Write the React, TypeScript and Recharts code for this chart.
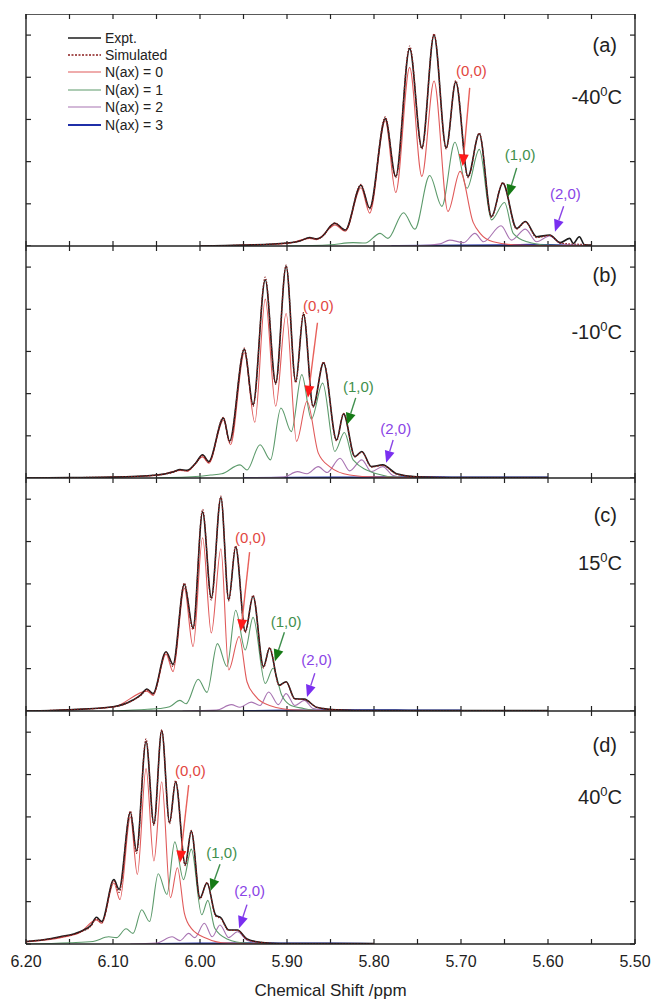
import { Legend, Line, LineChart, ReferenceDot, ReferenceLine, XAxis, YAxis } from "recharts";

type Pt = [number, number];

// x = chemical shift (ppm), y = intensity in tick units
const xTicks = [5.5, 5.55, 5.6, 5.65, 5.7, 5.75, 5.8, 5.85, 5.9, 5.95, 6.0, 6.05, 6.1, 6.15, 6.2];
const yTicks = [0, 1, 2, 3, 4, 5];
const X_MIN = 5.5;
const X_MAX = 6.2;
const Y_MAX = 5.5;

// (a) -40 C
const expA: Pt[] = [
  [6.0, 0], [5.95, 0.02], [5.9, 0.07], [5.885, 0.12], [5.874, 0.2], [5.866, 0.17], [5.857, 0.28],
  [5.851, 0.45], [5.845, 0.54], [5.833, 0.38], [5.815, 1.44], [5.805, 0.9], [5.787, 3.02], [5.775, 1.65],
  [5.759, 4.68], [5.745, 2.33], [5.731, 5.0], [5.717, 2.33], [5.706, 3.89], [5.692, 1.65], [5.679, 2.66],
  [5.665, 0.7], [5.652, 1.49], [5.636, 0.42], [5.626, 0.58], [5.613, 0.22], [5.598, 0.26], [5.586, 0.08],
  [5.575, 0.18], [5.571, 0.06], [5.564, 0.22], [5.558, 0.03], [5.55, 0.02],
];
const simA: Pt[] = [
  [6.0, 0], [5.95, 0.02], [5.9, 0.07], [5.885, 0.12], [5.874, 0.19], [5.866, 0.17], [5.857, 0.27],
  [5.851, 0.44], [5.845, 0.55], [5.833, 0.37], [5.815, 1.46], [5.805, 0.88], [5.787, 3.06], [5.775, 1.62],
  [5.759, 4.74], [5.745, 2.3], [5.731, 5.03], [5.717, 2.3], [5.706, 3.92], [5.692, 1.62], [5.679, 2.68],
  [5.665, 0.68], [5.652, 1.5], [5.636, 0.4], [5.626, 0.57], [5.613, 0.2], [5.598, 0.25], [5.586, 0.07],
  [5.575, 0.05], [5.564, 0.04], [5.55, 0.02],
];
const n0A: Pt[] = [
  [6.0, 0], [5.95, 0.02], [5.9, 0.06], [5.874, 0.18], [5.866, 0.15], [5.851, 0.42], [5.845, 0.5],
  [5.833, 0.35], [5.815, 1.38], [5.805, 0.78], [5.787, 2.97], [5.775, 1.27], [5.759, 4.23], [5.745, 1.65],
  [5.731, 3.91], [5.715, 0.82], [5.701, 1.77], [5.686, 0.56], [5.678, 0.3], [5.663, 0.1], [5.632, 0.02],
  [5.55, 0],
];
const n1A: Pt[] = [
  [5.9, 0], [5.85, 0.03], [5.824, 0.08], [5.81, 0.07], [5.793, 0.3], [5.784, 0.18], [5.766, 0.79],
  [5.753, 0.4], [5.736, 1.67], [5.722, 0.94], [5.707, 2.46], [5.693, 1.37], [5.679, 2.29], [5.665, 0.62],
  [5.65, 1.03], [5.64, 0.3], [5.624, 0.1], [5.601, 0.02], [5.55, 0],
];
const n2A: Pt[] = [
  [5.8, 0], [5.747, 0.01], [5.724, 0.05], [5.713, 0.14], [5.697, 0.08], [5.684, 0.3], [5.674, 0.1],
  [5.654, 0.48], [5.642, 0.14], [5.626, 0.4], [5.613, 0.1], [5.598, 0.24], [5.586, 0.06], [5.571, 0.02],
  [5.55, 0],
];
const n3A: Pt[] = [[5.78, 0], [5.7, 0.01], [5.65, 0.02], [5.62, 0.03], [5.59, 0.02], [5.55, 0]];

// (b) -10 C
const expB: Pt[] = [
  [6.2, 0], [6.15, 0.01], [6.1, 0.02], [6.05, 0.07], [6.03, 0.15], [6.023, 0.2], [6.015, 0.18],
  [6.005, 0.35], [5.997, 0.55], [5.99, 0.39], [5.973, 1.42], [5.966, 0.87], [5.949, 3.05], [5.939, 1.74],
  [5.925, 4.7], [5.913, 2.25], [5.901, 5.02], [5.89, 2.29], [5.881, 3.88], [5.87, 1.7], [5.858, 2.73],
  [5.843, 0.9], [5.835, 1.52], [5.822, 0.51], [5.814, 0.63], [5.803, 0.27], [5.79, 0.31], [5.774, 0.1],
  [5.751, 0.03], [5.7, 0.01], [5.6, 0.01],
];
const simB: Pt[] = [
  [6.2, 0], [6.15, 0.01], [6.1, 0.02], [6.05, 0.07], [6.03, 0.14], [6.023, 0.19], [6.015, 0.17],
  [6.005, 0.34], [5.997, 0.53], [5.99, 0.37], [5.973, 1.44], [5.966, 0.84], [5.949, 3.08], [5.939, 1.7],
  [5.925, 4.76], [5.913, 2.22], [5.901, 5.05], [5.89, 2.26], [5.881, 3.92], [5.87, 1.68], [5.858, 2.75],
  [5.843, 0.88], [5.835, 1.53], [5.822, 0.5], [5.814, 0.61], [5.803, 0.26], [5.79, 0.3], [5.774, 0.09],
  [5.751, 0.03], [5.7, 0.01], [5.6, 0.01],
];
const n0B: Pt[] = [
  [6.2, 0], [6.1, 0.02], [6.05, 0.06], [6.023, 0.18], [6.015, 0.16], [5.997, 0.5], [5.99, 0.35],
  [5.973, 1.37], [5.965, 0.79], [5.949, 2.97], [5.937, 1.32], [5.925, 4.24], [5.913, 1.7], [5.901, 3.9],
  [5.889, 0.87], [5.877, 1.82], [5.864, 0.59], [5.851, 0.27], [5.828, 0.07], [5.797, 0.02], [5.7, 0],
];
const n1B: Pt[] = [
  [6.05, 0], [6.0, 0.04], [5.988, 0.07], [5.975, 0.1], [5.954, 0.31], [5.946, 0.19], [5.931, 0.79],
  [5.919, 0.43], [5.907, 1.66], [5.895, 1.1], [5.883, 2.45], [5.872, 1.4], [5.859, 2.25], [5.845, 0.63],
  [5.834, 1.08], [5.824, 0.43], [5.797, 0.1], [5.774, 0.02], [5.7, 0],
];
const n2B: Pt[] = [
  [5.95, 0], [5.904, 0.02], [5.888, 0.15], [5.877, 0.1], [5.864, 0.27], [5.854, 0.13], [5.839, 0.47],
  [5.828, 0.17], [5.814, 0.43], [5.803, 0.15], [5.79, 0.27], [5.778, 0.06], [5.759, 0], [5.7, 0],
];
const n3B: Pt[] = [[5.95, 0], [5.85, 0.01], [5.8, 0.02], [5.75, 0.02], [5.7, 0.01], [5.6, 0.01]];

// (c) 15 C
const expC: Pt[] = [
  [6.2, 0], [6.15, 0.03], [6.1, 0.1], [6.077, 0.26], [6.068, 0.38], [6.061, 0.52], [6.054, 0.41],
  [6.039, 1.4], [6.031, 1.1], [6.018, 2.99], [6.008, 1.96], [5.997, 4.7], [5.987, 2.67], [5.976, 5.04],
  [5.967, 2.63], [5.959, 3.87], [5.948, 1.88], [5.939, 2.71], [5.927, 1.05], [5.92, 1.48], [5.909, 0.61],
  [5.901, 0.69], [5.891, 0.29], [5.88, 0.28], [5.866, 0.09], [5.843, 0.03], [5.8, 0.01], [5.6, 0.01],
];
const simC: Pt[] = [
  [6.2, 0], [6.15, 0.03], [6.1, 0.1], [6.077, 0.25], [6.068, 0.37], [6.061, 0.5], [6.054, 0.4],
  [6.039, 1.38], [6.031, 1.05], [6.018, 3.02], [6.008, 1.92], [5.997, 4.76], [5.987, 2.62], [5.976, 5.07],
  [5.967, 2.6], [5.959, 3.9], [5.948, 1.85], [5.939, 2.73], [5.927, 1.02], [5.92, 1.5], [5.909, 0.6],
  [5.901, 0.68], [5.891, 0.28], [5.88, 0.27], [5.866, 0.09], [5.843, 0.03], [5.8, 0.01], [5.6, 0.01],
];
const n0C: Pt[] = [
  [6.2, 0], [6.1, 0.09], [6.061, 0.47], [6.054, 0.37], [6.039, 1.34], [6.031, 0.93], [6.018, 2.9],
  [6.008, 1.52], [5.997, 4.09], [5.987, 1.84], [5.976, 3.83], [5.967, 0.97], [5.955, 1.76], [5.946, 0.69],
  [5.937, 0.37], [5.92, 0.13], [5.889, 0.02], [5.8, 0],
];
const n1C: Pt[] = [
  [6.1, 0], [6.06, 0.04], [6.046, 0.06], [6.035, 0.1], [6.023, 0.25], [6.016, 0.17], [6.002, 0.75],
  [5.992, 0.44], [5.98, 1.59], [5.969, 1.05], [5.959, 2.38], [5.948, 1.44], [5.939, 2.21], [5.925, 0.65],
  [5.916, 1.01], [5.906, 0.37], [5.897, 0.15], [5.881, 0.06], [5.862, 0.01], [5.8, 0],
];
const n2C: Pt[] = [
  [6.02, 0], [5.981, 0.02], [5.964, 0.15], [5.954, 0.09], [5.941, 0.21], [5.931, 0.13], [5.921, 0.45],
  [5.91, 0.15], [5.901, 0.41], [5.891, 0.13], [5.88, 0.25], [5.87, 0.06], [5.851, 0.01], [5.8, 0],
];
const n3C: Pt[] = [[5.95, 0], [5.9, 0.01], [5.85, 0.02], [5.8, 0.02], [5.75, 0.01], [5.7, 0.01]];

// (d) 40 C
const expD: Pt[] = [
  [6.2, 0.06], [6.18, 0.1], [6.161, 0.17], [6.138, 0.29], [6.125, 0.45], [6.119, 0.63], [6.113, 0.53],
  [6.099, 1.52], [6.093, 1.29], [6.08, 3.11], [6.073, 2.2], [6.062, 4.78], [6.053, 2.83], [6.044, 5.04],
  [6.035, 2.87], [6.028, 3.83], [6.017, 1.88], [6.01, 2.66], [6.0, 1.09], [5.992, 1.44], [5.982, 0.68],
  [5.976, 0.62], [5.967, 0.33], [5.957, 0.33], [5.946, 0.12], [5.931, 0.04], [5.908, 0.01], [5.8, 0.01],
];
const simD: Pt[] = [
  [6.2, 0.06], [6.18, 0.1], [6.161, 0.16], [6.138, 0.28], [6.125, 0.43], [6.119, 0.6], [6.113, 0.5],
  [6.099, 1.5], [6.093, 1.22], [6.08, 3.14], [6.073, 2.14], [6.062, 4.84], [6.053, 2.8], [6.044, 5.06],
  [6.035, 2.84], [6.028, 3.86], [6.017, 1.85], [6.01, 2.68], [6.0, 1.06], [5.992, 1.45], [5.982, 0.66],
  [5.976, 0.6], [5.967, 0.32], [5.957, 0.32], [5.946, 0.11], [5.931, 0.04], [5.908, 0.01], [5.8, 0.01],
];
const n0D: Pt[] = [
  [6.2, 0.05], [6.16, 0.15], [6.138, 0.27], [6.119, 0.57], [6.113, 0.49], [6.099, 1.44], [6.092, 1.05],
  [6.08, 3.0], [6.072, 1.64], [6.062, 4.14], [6.053, 1.96], [6.044, 3.83], [6.034, 1.09], [6.026, 1.8],
  [6.018, 0.73], [6.01, 0.37], [5.992, 0.13], [5.969, 0.02], [5.9, 0],
];
const n1D: Pt[] = [
  [6.2, 0], [6.15, 0.03], [6.123, 0.06], [6.105, 0.17], [6.096, 0.15], [6.085, 0.36], [6.077, 0.25],
  [6.067, 0.81], [6.058, 0.53], [6.048, 1.66], [6.038, 1.17], [6.029, 2.41], [6.019, 1.52], [6.01, 2.24],
  [5.998, 0.69], [5.991, 1.03], [5.983, 0.37], [5.969, 0.12], [5.946, 0.02], [5.9, 0],
];
const n2D: Pt[] = [
  [6.08, 0], [6.05, 0.02], [6.032, 0.17], [6.023, 0.08], [6.013, 0.25], [6.006, 0.15], [5.995, 0.49],
  [5.986, 0.17], [5.977, 0.45], [5.967, 0.15], [5.957, 0.29], [5.946, 0.09], [5.931, 0.02], [5.9, 0],
];
const n3D: Pt[] = [[6.05, 0], [6.0, 0.01], [5.95, 0.02], [5.9, 0.01], [5.85, 0.01], [5.8, 0]];

// arrow annotations: label centre, arrow start, arrow tip (ppm, intensity)
type Note = { label: string; kind: 0 | 1 | 2; text: Pt; from: Pt; to: Pt };
const notesA: Note[] = [
  { label: "(0,0)", kind: 0, text: [5.688, 4.15], from: [5.69, 3.75], to: [5.698, 1.89] },
  { label: "(1,0)", kind: 1, text: [5.632, 2.17], from: [5.636, 1.85], to: [5.646, 1.17] },
  { label: "(2,0)", kind: 2, text: [5.58, 1.25], from: [5.582, 0.94], to: [5.592, 0.34] },
];
const notesB: Note[] = [
  { label: "(0,0)", kind: 0, text: [5.864, 4.08], from: [5.865, 3.68], to: [5.876, 1.9] },
  { label: "(1,0)", kind: 1, text: [5.818, 2.17], from: [5.821, 1.9], to: [5.831, 1.26] },
  { label: "(2,0)", kind: 2, text: [5.775, 1.18], from: [5.778, 0.9], to: [5.786, 0.36] },
];
const notesC: Note[] = [
  { label: "(0,0)", kind: 0, text: [5.942, 4.1], from: [5.943, 3.75], to: [5.953, 1.88] },
  { label: "(1,0)", kind: 1, text: [5.901, 2.12], from: [5.903, 1.86], to: [5.914, 1.17] },
  { label: "(2,0)", kind: 2, text: [5.866, 1.21], from: [5.868, 0.89], to: [5.877, 0.33] },
];
const notesD: Note[] = [
  { label: "(0,0)", kind: 0, text: [6.011, 4.1], from: [6.013, 3.75], to: [6.023, 1.92] },
  { label: "(1,0)", kind: 1, text: [5.975, 2.16], from: [5.977, 1.88], to: [5.988, 1.25] },
  { label: "(2,0)", kind: 2, text: [5.943, 1.26], from: [5.946, 0.93], to: [5.955, 0.37] },
];

const FONT = "Arial, 'Liberation Sans', Helvetica, sans-serif";
const W = 653;
const THIN = 0.01; // axes of size 0 are not drawn at all
const TICK = 5;

const C = {
  expt: "#1c1c1c",
  sim: "#8a1c1c",
  n0: "#e05a5a",
  n1: "#5c9a6b",
  n2: "#a874b2",
  n3: "#1f2fa8",
};

const NOTE_COLORS = [
  { text: "#e2473f", line: "#e8605a", head: "#ff1a1a" },
  { text: "#3f8f4d", line: "#3f8f4d", head: "#167a16" },
  { text: "#8a44e6", line: "#8a44e6", head: "#7a2ff0" },
];

const legendRows = [
  { name: "Expt.", color: C.expt, dash: "", width: 1.4 },
  { name: "Simulated", color: C.sim, dash: "2 1.5", width: 1.4 },
  { name: "N(ax) = 0", color: C.n0, dash: "", width: 1.2 },
  { name: "N(ax) = 1", color: C.n1, dash: "", width: 1.2 },
  { name: "N(ax) = 2", color: C.n2, dash: "", width: 1.2 },
  { name: "N(ax) = 3", color: C.n3, dash: "", width: 2.2 },
];

interface PanelDef {
  tag: string;
  temp: string;
  top: number;
  height: number;
  tagY: number;
  tempY: number;
  exp: Pt[];
  sim: Pt[];
  n0: Pt[];
  n1: Pt[];
  n2: Pt[];
  n3: Pt[];
  notes: Note[];
}

const panels: PanelDef[] = [
  { tag: "(a)", temp: "-40", top: 14, height: 232, tagY: 31, tempY: 83, exp: expA, sim: simA, n0: n0A, n1: n1A, n2: n2A, n3: n3A, notes: notesA },
  { tag: "(b)", temp: "-10", top: 246, height: 232, tagY: 29, tempY: 86, exp: expB, sim: simB, n0: n0B, n1: n1B, n2: n2B, n3: n3B, notes: notesB },
  { tag: "(c)", temp: "15", top: 478, height: 233, tagY: 37, tempY: 85, exp: expC, sim: simC, n0: n0C, n1: n1C, n2: n2C, n3: n3C, notes: notesC },
  { tag: "(d)", temp: "40", top: 711, height: 233, tagY: 34, tempY: 86, exp: expD, sim: simD, n0: n0D, n1: n1D, n2: n2D, n3: n3D, notes: notesD },
];

const rows = (pts: Pt[]) => pts.map(([x, y]) => ({ x, y }));

function arrowShape(lineColor: string, headColor: string) {
  return (props: any) => {
    const { x1, y1, x2, y2 } = props;
    const dx = x2 - x1;
    const dy = y2 - y1;
    const len = Math.hypot(dx, dy) || 1;
    const ux = dx / len;
    const uy = dy / len;
    const hl = 12;
    const hw = 5;
    const bx = x2 - ux * hl;
    const by = y2 - uy * hl;
    const pts = `${x2},${y2} ${bx - uy * hw},${by + ux * hw} ${bx + uy * hw},${by - ux * hw}`;
    return (
      <g>
        <line x1={x1} y1={y1} x2={bx} y2={by} stroke={lineColor} strokeWidth={1.4} />
        <polygon points={pts} fill={headColor} />
      </g>
    );
  };
}

// inward tick marks at both ends of a segment spanning the plot
const vTicks = (props: any) => {
  const { x1, y1, x2, y2 } = props;
  const top = Math.min(y1, y2);
  const bottom = Math.max(y1, y2);
  return (
    <g stroke="#222" strokeWidth={1.2}>
      <line x1={x1} y1={top} x2={x1} y2={top + TICK} />
      <line x1={x2} y1={bottom} x2={x2} y2={bottom - TICK} />
    </g>
  );
};
const hTicks = (props: any) => {
  const { x1, y1, x2, y2 } = props;
  const left = Math.min(x1, x2);
  const right = Math.max(x1, x2);
  return (
    <g stroke="#222" strokeWidth={1.2}>
      <line x1={left} y1={y1} x2={left + TICK} y2={y1} />
      <line x1={right} y1={y2} x2={right - TICK} y2={y2} />
    </g>
  );
};

function LegendBox() {
  return (
    <div style={{ fontFamily: FONT, fontSize: 14, color: "#222" }}>
      {legendRows.map((r) => (
        <div key={r.name} style={{ display: "flex", alignItems: "center", height: 17.4 }}>
          <svg width={33} height={6} style={{ marginRight: 4 }}>
            <line x1={0} y1={3} x2={33} y2={3} stroke={r.color} strokeWidth={r.width} strokeDasharray={r.dash || undefined} />
          </svg>
          <span>{r.name}</span>
        </div>
      ))}
    </div>
  );
}

const tickLabel = (v: number) => (Math.round(v * 100) % 10 === 0 ? v.toFixed(2) : "");

function Panel({ p, last, first }: { p: PanelDef; last: boolean; first: boolean }) {
  const labelH = last ? 57 : 0;
  const chartH = p.height + labelH;
  const frame = { stroke: "#222", strokeWidth: 1.4 };
  const xCommon = {
    type: "number" as const,
    dataKey: "x",
    domain: [X_MIN, X_MAX],
    reversed: true,
    allowDataOverflow: true,
    ticks: xTicks,
    interval: 0,
  };
  const yCommon = {
    type: "number" as const,
    domain: [0, Y_MAX],
    allowDataOverflow: true,
    ticks: yTicks,
    interval: 0,
  };
  return (
    <div style={{ position: "absolute", left: 0, top: p.top, width: W, height: chartH }}>
      <LineChart width={W} height={chartH} margin={{ top: 0, right: 18, bottom: 0, left: 26 }}>
        {/* frame */}
        <XAxis {...xCommon} xAxisId={0} height={THIN} mirror axisLine={frame} tickLine={false} tick={false} />
        <XAxis {...xCommon} xAxisId="top" orientation="top" height={THIN} mirror axisLine={frame} tickLine={false} tick={false} />
        <YAxis {...yCommon} yAxisId={0} width={THIN} mirror axisLine={frame} tickLine={false} tick={false} />
        <YAxis {...yCommon} yAxisId="right" orientation="right" width={THIN} mirror axisLine={frame} tickLine={false} tick={false} />
        {last && (
          <XAxis
            {...xCommon}
            xAxisId="labels"
            height={labelH}
            tickSize={0}
            tickMargin={12}
            axisLine={false}
            tickLine={false}
            tick={{ fontSize: 16, fill: "#222", fontFamily: FONT }}
            tickFormatter={tickLabel}
            label={{
              value: "Chemical Shift /ppm",
              position: "insideBottom",
              offset: 5,
              style: { fontSize: 17, fill: "#222", fontFamily: FONT },
            }}
          />
        )}
        {xTicks.map((t) => (
          <ReferenceLine
            key={`xt-${t}`}
            segment={[
              { x: t, y: 0 },
              { x: t, y: Y_MAX },
            ]}
            ifOverflow="visible"
            shape={vTicks}
          />
        ))}
        {yTicks.map((t) => (
          <ReferenceLine
            key={`yt-${t}`}
            segment={[
              { x: X_MAX, y: t },
              { x: X_MIN, y: t },
            ]}
            ifOverflow="visible"
            shape={hTicks}
          />
        ))}
        <Line data={rows(p.n3)} dataKey="y" type="monotone" stroke={C.n3} strokeWidth={2} dot={false} isAnimationActive={false} />
        <Line data={rows(p.n2)} dataKey="y" type="monotone" stroke={C.n2} strokeWidth={1.1} dot={false} isAnimationActive={false} />
        <Line data={rows(p.n1)} dataKey="y" type="monotone" stroke={C.n1} strokeWidth={1.1} dot={false} isAnimationActive={false} />
        <Line data={rows(p.n0)} dataKey="y" type="monotone" stroke={C.n0} strokeWidth={1.1} dot={false} isAnimationActive={false} />
        <Line data={rows(p.exp)} dataKey="y" type="monotone" stroke={C.expt} strokeWidth={1.6} dot={false} isAnimationActive={false} />
        <Line
          data={rows(p.sim)}
          dataKey="y"
          type="monotone"
          stroke={C.sim}
          strokeWidth={1.2}
          strokeDasharray="1.5 1.5"
          dot={false}
          isAnimationActive={false}
        />
        {p.notes.map((n) => (
          <ReferenceLine
            key={`arrow-${n.label}`}
            segment={[
              { x: n.from[0], y: n.from[1] },
              { x: n.to[0], y: n.to[1] },
            ]}
            shape={arrowShape(NOTE_COLORS[n.kind].line, NOTE_COLORS[n.kind].head)}
          />
        ))}
        {p.notes.map((n) => (
          <ReferenceDot
            key={`text-${n.label}`}
            x={n.text[0]}
            y={n.text[1]}
            r={0}
            shape={(d: any) => (
              <text
                x={d.cx}
                y={d.cy}
                textAnchor="middle"
                dominantBaseline="central"
                fontFamily={FONT}
                fontSize={15}
                fill={NOTE_COLORS[n.kind].text}
              >
                {n.label}
              </text>
            )}
          />
        ))}
        {first && (
          <Legend
            layout="vertical"
            align="center"
            verticalAlign="middle"
            content={() => <LegendBox />}
            wrapperStyle={{ left: 68, top: 15, width: "auto", height: "auto" }}
          />
        )}
      </LineChart>
      <div
        style={{
          position: "absolute",
          right: 36,
          top: p.tagY - 11,
          fontFamily: FONT,
          fontSize: 20,
          lineHeight: "22px",
          color: "#222",
        }}
      >
        {p.tag}
      </div>
      <div
        style={{
          position: "absolute",
          right: 31,
          top: p.tempY - 11,
          fontFamily: FONT,
          fontSize: 20,
          lineHeight: "22px",
          color: "#222",
        }}
      >
        {p.temp}
        <sup style={{ fontSize: 13, lineHeight: 0 }}>0</sup>C
      </div>
    </div>
  );
}

export default function App() {
  return (
    <div style={{ position: "absolute", left: 0, top: 0, width: W, height: 1001, background: "#fff" }}>
      {panels.map((p, i) => (
        <Panel key={p.tag} p={p} first={i === 0} last={i === panels.length - 1} />
      ))}
    </div>
  );
}
